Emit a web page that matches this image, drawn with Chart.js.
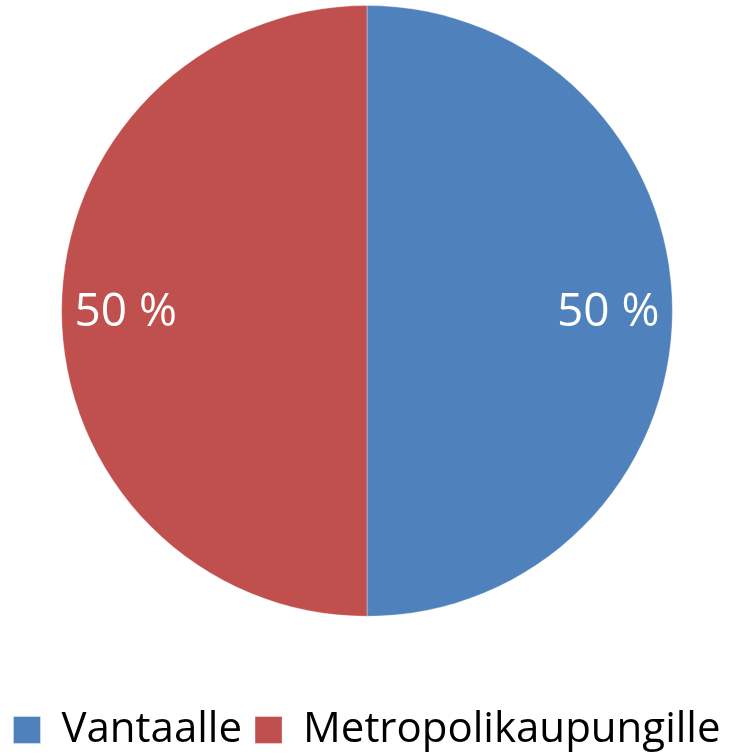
<!DOCTYPE html>
<html>
<head>
  <meta charset="utf-8">
  <title>Vantaalle / Metropolikaupungille</title>
  <script src="https://cdn.jsdelivr.net/npm/chart.js"></script>
  <style>
    html, body { margin: 0; padding: 0; background: #fff; overflow: hidden; }
    #wrap { width: 747px; height: 755px; overflow: hidden; }
  </style>
</head>
<body>
  <div id="wrap"><canvas id="pieChart" width="747" height="761"></canvas></div>

  <script>
    const categories = ['Vantaalle', 'Metropolikaupungille'];
    const shares = [50, 50];
    const sliceColors = ['#4F81BD', '#C0504D'];

    // draws "50 %" inside each slice, at ~0.79 of the radius
    const sliceLabels = {
      id: 'sliceLabels',
      afterDatasetsDraw(chart) {
        const c = chart.ctx;
        const meta = chart.getDatasetMeta(0);
        c.save();
        c.fillStyle = '#fff';
        c.font = '46px "Open Sans"';
        c.textAlign = 'center';
        c.textBaseline = 'middle';
        meta.data.forEach((arc, i) => {
          const p = arc.getProps(['x', 'y', 'startAngle', 'endAngle', 'outerRadius'], true);
          const mid = (p.startAngle + p.endAngle) / 2;
          const r = p.outerRadius * 0.79;
          c.fillText(shares[i] + ' %', p.x + Math.cos(mid) * r, p.y + Math.sin(mid) * r + 2);
        });
        c.restore();
      }
    };

    const ctx = document.getElementById('pieChart').getContext('2d');
    new Chart(ctx, {
      type: 'pie',
      data: {
        labels: categories,
        datasets: [{
          data: shares,
          backgroundColor: sliceColors,
          borderColor: 'rgba(255,255,255,0.35)',
          borderWidth: 1
        }]
      },
      options: {
        responsive: false,
        animation: false,
        layout: { padding: { top: 5, left: 0, right: 13, bottom: 0 } },
        plugins: {
          tooltip: { enabled: false },
          legend: {
            position: 'bottom',
            // empty title used only as a spacer between pie and legend
            title: { display: true, text: '', font: { size: 1 }, padding: { top: 78, bottom: 0 } },
            labels: {
              color: '#000',
              font: { family: '"Open Sans"', size: 42 },
              boxWidth: 27,
              boxHeight: 27,
              padding: 13
            }
          }
        }
      },
      plugins: [sliceLabels]
    });
  </script>
</body>
</html>
